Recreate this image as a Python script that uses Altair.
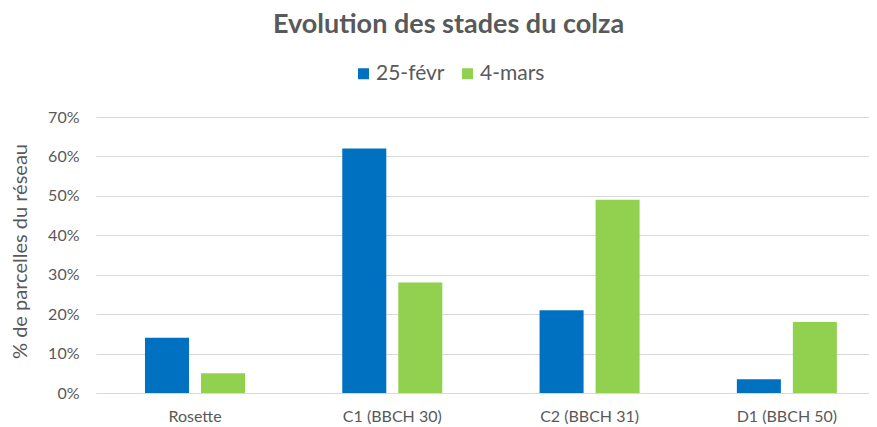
import altair as alt
import pandas as pd

categories = ["Rosette", "C1 (BBCH 30)", "C2 (BBCH 31)", "D1 (BBCH 50)"]
series = ["25-févr", "4-mars"]
values_feb = [0.14, 0.62, 0.21, 0.035]
values_mar = [0.05, 0.28, 0.49, 0.18]
y_ticks = [0, 0.1, 0.2, 0.3, 0.4, 0.5, 0.6, 0.7]

rows = []
for c, a, b in zip(categories, values_feb, values_mar):
    rows.append({"stade": c, "date": series[0], "value": a})
    rows.append({"stade": c, "date": series[1], "value": b})
df = pd.DataFrame(rows)

FONT = "Lato"
GREY = "#595959"

chart = alt.Chart(df).mark_bar().encode(
    x=alt.X("stade:N", sort=categories,
            scale=alt.Scale(paddingInner=0.493, paddingOuter=0.2055, align=0.604),
            axis=alt.Axis(title=None, labelAngle=0, labelFontSize=16, labelColor=GREY,
                          labelFont=FONT, domainColor="#d9d9d9", domainWidth=1,
                          ticks=False, labelPadding=15)),
    xOffset=alt.XOffset("date:N", sort=series,
                        scale=alt.Scale(paddingInner=0.214, paddingOuter=0)),
    y=alt.Y("value:Q", scale=alt.Scale(domain=[0, 0.7], nice=False),
            axis=alt.Axis(format=".0%", values=y_ticks, title="% de parcelles du réseau",
                          domain=False, ticks=False, gridColor="#d9d9d9", gridWidth=1,
                          labelFontSize=16, labelColor=GREY, labelFont=FONT, labelPadding=17,
                          titleFont=FONT, titleFontSize=20, titleFontWeight="normal",
                          titleColor=GREY, titleAngle=270, titleBaseline="middle",
                          titleAlign="center", titleX=-76, titleY=134)),
    color=alt.Color("date:N", sort=series,
                    scale=alt.Scale(domain=series, range=["#0070C0", "#92D050"]),
                    legend=alt.Legend(orient="none", legendX=257, legendY=-54,
                                      direction="horizontal", title=None,
                                      symbolType="square", symbolSize=121,
                                      symbolStrokeWidth=0,
                                      labelFontSize=21, labelFont=FONT, labelColor=GREY,
                                      labelOffset=2, columnPadding=12, padding=0)),
).properties(
    width=773,
    height=276,
    title=alt.Title("Evolution des stades du colza", font=FONT, fontSize=27,
                    fontWeight="bold", color=GREY, anchor="middle", dx=-34, offset=24),
    autosize=alt.AutoSizeParams(type="none"),
    padding={"left": 88, "top": 109, "right": 0, "bottom": 34},
).configure_view(stroke=None)

chart.save("out.html", embed_options={"renderer": "svg", "actions": False})
